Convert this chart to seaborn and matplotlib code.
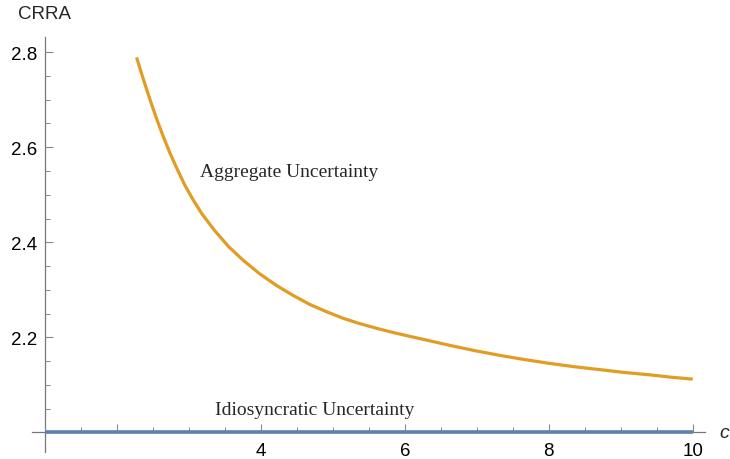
import matplotlib
matplotlib.use("Agg")
import matplotlib.pyplot as plt
from matplotlib.ticker import FixedLocator, MultipleLocator
import seaborn as sns
import pandas as pd

# ---- data ----
c_aggregate = [2.273, 2.34, 2.412, 2.48, 2.551, 2.64, 2.736, 2.84, 2.944, 3.06,
               3.176, 3.27, 3.361, 3.55, 3.755, 3.98, 4.218, 4.45, 4.681, 4.91,
               5.143, 5.37, 5.606, 5.84, 6.069, 6.35, 6.625, 6.97, 7.319, 7.67,
               8.014, 8.36, 8.708, 9.05, 9.403, 9.7, 10.0]
crra_aggregate = [2.789, 2.756, 2.722, 2.691, 2.660, 2.624, 2.588, 2.553, 2.520, 2.489,
                  2.461, 2.442, 2.424, 2.391, 2.362, 2.334, 2.309, 2.288, 2.269, 2.254,
                  2.240, 2.229, 2.219, 2.210, 2.202, 2.1925, 2.183, 2.172, 2.162, 2.153,
                  2.145, 2.138, 2.132, 2.126, 2.121, 2.116, 2.112]
c_idio = [1.0, 10.0]
crra_idio = [2.0, 2.0]

x_major = [2, 4, 6, 8, 10]
x_labels = ["", "4", "6", "8", "10"]
y_major = [2.2, 2.4, 2.6, 2.8]
y_labels = ["2.2", "2.4", "2.6", "2.8"]

label_agg = "Aggregate Uncertainty"
label_idio = "Idiosyncratic Uncertainty"
x_title = "c"
y_title = "CRRA"

df_agg = pd.DataFrame({"c": c_aggregate, "CRRA": crra_aggregate})
df_idio = pd.DataFrame({"c": c_idio, "CRRA": crra_idio})

sns.set_theme(style="white")
plt.rcParams["font.family"] = ["Liberation Sans", "DejaVu Sans"]

fig = plt.figure(figsize=(7.3, 4.6), dpi=100)
ax = fig.add_axes([32 / 730, 1 - 453.3 / 460, 673 / 730, 415.3 / 460])

orange = "#E19C24"
blue = "#5E81B5"

sns.lineplot(data=df_agg, x="c", y="CRRA", ax=ax, color=orange, linewidth=2.3,
             estimator=None, sort=True)
sns.lineplot(data=df_idio, x="c", y="CRRA", ax=ax, color=blue, linewidth=2.6,
             estimator=None, sort=True)
for ln in ax.lines:
    ln.set_solid_joinstyle("round")
    ln.set_solid_capstyle("butt")

ax.set_xlim(0.82, 10.17)
ax.set_ylim(1.958, 2.832)

for s in ["top", "right"]:
    ax.spines[s].set_visible(False)
ax.spines["left"].set_position(("data", 1.0))
ax.spines["bottom"].set_position(("data", 2.0))
for s in ["left", "bottom"]:
    ax.spines[s].set_color("#777777")
    ax.spines[s].set_linewidth(0.9)
    ax.spines[s].set_zorder(0.5)

ax.xaxis.set_major_locator(FixedLocator(x_major))
ax.set_xticklabels(x_labels)
ax.xaxis.set_minor_locator(MultipleLocator(0.5))
ax.yaxis.set_major_locator(FixedLocator(y_major))
ax.set_yticklabels(y_labels)
ax.yaxis.set_minor_locator(MultipleLocator(0.05))

ax.tick_params(axis="both", which="major", direction="in", length=6, width=0.8,
               color="#888888", labelsize=13.5, labelcolor="black")
ax.tick_params(axis="both", which="minor", direction="in", length=3.5, width=0.7,
               color="#888888")
ax.tick_params(axis="x", which="major", pad=7)
ax.tick_params(axis="y", which="major", pad=5.5)
ax.tick_params(axis="x", which="both", bottom=True, top=False)
ax.tick_params(axis="y", which="both", left=True, right=False)

ax.set_xlabel("")
ax.set_ylabel("")

ax.text(1.0, 2.882, y_title, ha="center", va="center", fontsize=13.5,
        family=["Liberation Sans", "DejaVu Sans"], clip_on=False)
ax.text(10.37, 2.0, x_title, ha="left", va="center", fontsize=14, style="italic",
        family=["Liberation Sans", "DejaVu Sans"], clip_on=False)

ax.text(3.153, 2.540, label_agg, ha="left", va="baseline", fontsize=14,
        family=["Liberation Serif", "DejaVu Serif"])
ax.text(3.361, 2.0385, label_idio, ha="left", va="baseline", fontsize=14,
        family=["Liberation Serif", "DejaVu Serif"])

fig.savefig("out.png", dpi=100)
